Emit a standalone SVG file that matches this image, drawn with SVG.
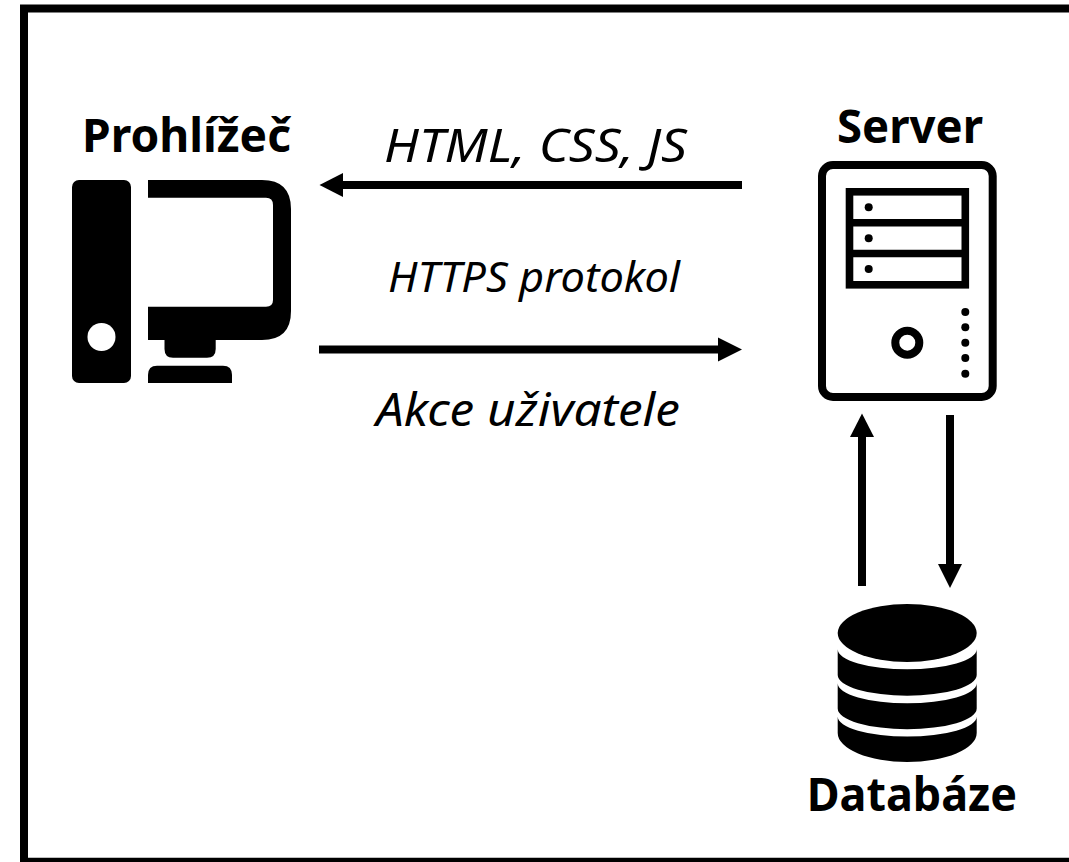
<svg xmlns="http://www.w3.org/2000/svg" width="1069" height="862" viewBox="0 0 1069 862">
<style>
text{font-family:"Noto Sans","Liberation Sans",sans-serif;fill:#000}
.b{font-weight:700;font-size:47px}
.i{font-style:italic;font-size:46px}
.c{stroke:#000;stroke-width:8;fill:none}
</style>
<rect width="1069" height="862" fill="#fff"/>
<path id="frame" d="M1069 8.500H24V862M20 861.800H1069" fill="none" stroke="#000" stroke-width="8"/>
<g id="connectors">
<g><path class="c" d="M742 185H342"/><path d="M319.500 185L343 173V197Z"/></g>
<g><path class="c" d="M319 349.500H719"/><path d="M742 349.500L718 337.500V361.500Z"/></g>
<g><path class="c" d="M862 586V436"/><path d="M862 413.500L850 437H874Z"/></g>
<g><path class="c" d="M950 415V565"/><path d="M950 588L938 564H962Z"/></g>
</g>
<g id="browser">
<rect x="72" y="180" width="59" height="203" rx="7"/>
<circle cx="101.500" cy="337" r="14" fill="#fff"/>
<path fill-rule="evenodd" d="M148 180H262Q291 180 291 209V311Q291 340 262 340H215.700V349Q215.700 357.700 207 357.700H173Q164.500 357.700 164.500 349V340H148V306.700H266Q273 306.700 273 300V205Q273 197.700 266 197.700H148Z"/>
<path d="M148 383V375Q148 365.700 157 365.700H223Q232 365.700 232 375V383Z"/>
<text class="b" x="82" y="151.700" textLength="209" lengthAdjust="spacingAndGlyphs">Prohlížeč</text>
</g>
<g id="server">
<rect x="822" y="165" width="170.700" height="232" rx="11" fill="#fff" stroke="#000" stroke-width="8"/>
<rect x="849.500" y="191.800" width="115.800" height="93" fill="none" stroke="#000" stroke-width="7.600"/>
<path d="M849.500 222.700H965.300M849.500 253.500H965.300" stroke="#000" stroke-width="7.600" fill="none"/>
<circle cx="868.700" cy="207.300" r="4"/><circle cx="868.700" cy="238.300" r="4"/><circle cx="868.700" cy="269" r="4"/>
<circle cx="965.300" cy="312" r="4"/><circle cx="965.300" cy="327.300" r="4"/><circle cx="965.300" cy="342.700" r="4"/><circle cx="965.300" cy="358" r="4"/><circle cx="965.300" cy="373.700" r="4"/>
<circle cx="907.300" cy="342.700" r="12" fill="none" stroke="#000" stroke-width="8"/>
<text class="b" x="837" y="142.700" textLength="146" lengthAdjust="spacingAndGlyphs">Server</text>
</g>
<g id="database">
<ellipse cx="907.200" cy="633" rx="69.500" ry="29"/>
<path d="M837.700 649.300A69.500 20 0 0 0 976.700 649.300V675A69.500 20.700 0 0 1 837.700 675Z"/>
<path d="M837.700 683.300A69.500 20 0 0 0 976.700 683.300V708.500A69.500 20.700 0 0 1 837.700 708.500Z"/>
<path d="M837.700 716.500A69.500 20 0 0 0 976.700 716.500V733A69.500 29 0 0 1 837.700 733Z"/>
<text class="b" x="806.700" y="810.700" textLength="210.300" lengthAdjust="spacingAndGlyphs">Databáze</text>
</g>
<g id="labels">
<text class="i" x="384" y="162.300" textLength="303" lengthAdjust="spacingAndGlyphs">HTML, CSS, JS</text>
<text class="i" style="font-size:41px" x="388" y="291.700" textLength="292" lengthAdjust="spacingAndGlyphs">HTTPS protokol</text>
<text class="i" x="376" y="425.700" textLength="304" lengthAdjust="spacingAndGlyphs">Akce uživatele</text>
</g>
</svg>
